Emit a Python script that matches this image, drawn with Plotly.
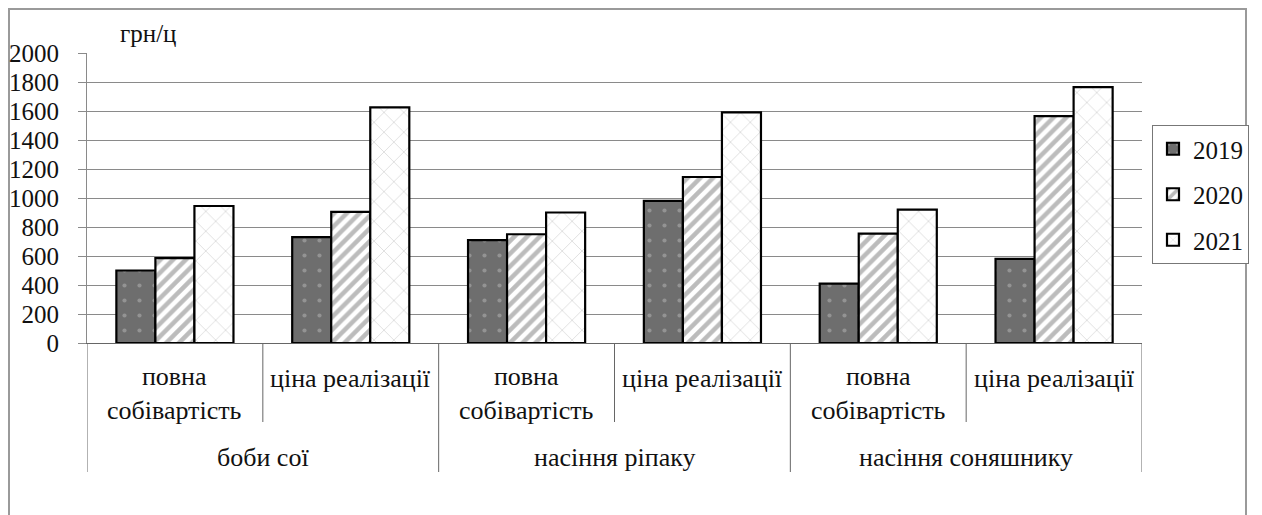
import plotly.graph_objects as go

# ---- data ----
products = ["боби сої", "насіння ріпаку", "насіння соняшнику"]
indicators = ["повна<br>собівартість", "ціна реалізації"]
years = ["2019", "2020", "2021"]
values_2019 = [500, 730, 710, 980, 410, 580]
values_2020 = [585, 905, 750, 1145, 755, 1565]
values_2021 = [945, 1625, 900, 1590, 920, 1765]
y_ticks = [0, 200, 400, 600, 800, 1000, 1200, 1400, 1600, 1800, 2000]
unit_label = "грн/ц"

categories = [f"{p} | {i}" for p in products for i in indicators]
series = [values_2019, values_2020, values_2021]

FONT = "Liberation Serif"
FS = 25
XFS = 26
GRID = "#8a8a8a"
TXT = "#111"

patterns = [
    dict(shape=".", bgcolor="#6e6e6e", fgcolor="#b8b8b8", size=15, solidity=0.06, fillmode="overlay"),
    dict(shape="/", bgcolor="white", fgcolor="#7a7a7a", size=9, solidity=0.5, fillmode="overlay"),
    dict(shape="x", bgcolor="white", fgcolor="#a8a8a8", size=14, solidity=0.1, fillmode="overlay"),
]
colors = ["#6e6e6e", "white", "white"]

fig = go.Figure()
for k, (yr, vals) in enumerate(zip(years, series)):
    fig.add_trace(go.Bar(
        x=categories, y=vals, name=yr, legendgroup=yr,
        marker=dict(color=colors[k], pattern=patterns[k],
                    line=dict(color="black", width=2.2)),
    ))

OFF = 8  # page body margin
W, H = 1254, 507
L, T = 87 - OFF, 53 - OFF
R = W - (1142 - OFF)
B = H - (343 - OFF)
pw, ph = W - L - R, H - T - B


def py(pix):
    return (H - B - (pix - OFF)) / ph


def px(pix):
    return (pix - OFF - L) / pw


annotations = []
for gi, p in enumerate(products):
    for ii, ind in enumerate(indicators):
        idx = gi * 2 + ii
        two_line = "<br>" in ind
        annotations.append(dict(
            x=idx, y=py(393 if two_line else 378), xref="x", yref="paper",
            text=ind, showarrow=False, yanchor="middle", xanchor="center",
            font=dict(family=FONT, size=XFS, color=TXT)))
    annotations.append(dict(
        x=gi * 2 + 0.5, y=py(457), xref="x", yref="paper",
        text=p, showarrow=False, yanchor="middle", xanchor="center",
        font=dict(family=FONT, size=XFS, color=TXT)))
annotations.append(dict(
    x=px(148), y=py(33), xref="paper", yref="paper", text=unit_label,
    showarrow=False, xanchor="center", yanchor="middle",
    font=dict(family=FONT, size=FS, color=TXT)))

shapes = []
n = len(categories)
for b in range(n + 1):
    pos = b - 0.5
    long_line = (b % 2 == 0)
    shapes.append(dict(type="line", xref="x", yref="paper",
                       x0=pos, x1=pos, y0=0, y1=py(472 if long_line else 422),
                       line=dict(color="#666", width=1)))
shapes.append(dict(type="rect", xref="paper", yref="paper",
                   x0=px(9), x1=px(1246), y0=py(540), y1=py(9),
                   line=dict(color="#9a9a9a", width=2), layer="below"))

fig.update_layout(
    width=W, height=H,
    margin=dict(l=L, r=R, t=T, b=B, pad=0, autoexpand=False),
    paper_bgcolor="white", plot_bgcolor="white",
    barmode="group", bargap=0.334, bargroupgap=0,
    font=dict(family=FONT, size=FS, color=TXT),
    xaxis=dict(type="category", range=[-0.5, n - 0.5], showticklabels=False,
               showline=True, linecolor="#666", linewidth=1, showgrid=False,
               ticks="", fixedrange=True, automargin=False),
    yaxis=dict(range=[0, 2000], tickvals=y_ticks, showgrid=True, gridcolor=GRID,
               gridwidth=1, showline=True, linecolor=GRID, linewidth=1,
               ticks="outside", ticklen=8, tickcolor=GRID,
               ticklabelstandoff=14, zeroline=False, automargin=False,
               tickfont=dict(family=FONT, size=FS, color=TXT)),
    legend=dict(x=px(1152), y=py(125), xanchor="left", yanchor="top",
                bordercolor="#777", borderwidth=1, bgcolor="white",
                font=dict(family=FONT, size=FS, color=TXT),
                traceorder="grouped", tracegroupgap=10, itemwidth=30),
    annotations=annotations, shapes=shapes, showlegend=True,
)

fig.write_html("out.html")
